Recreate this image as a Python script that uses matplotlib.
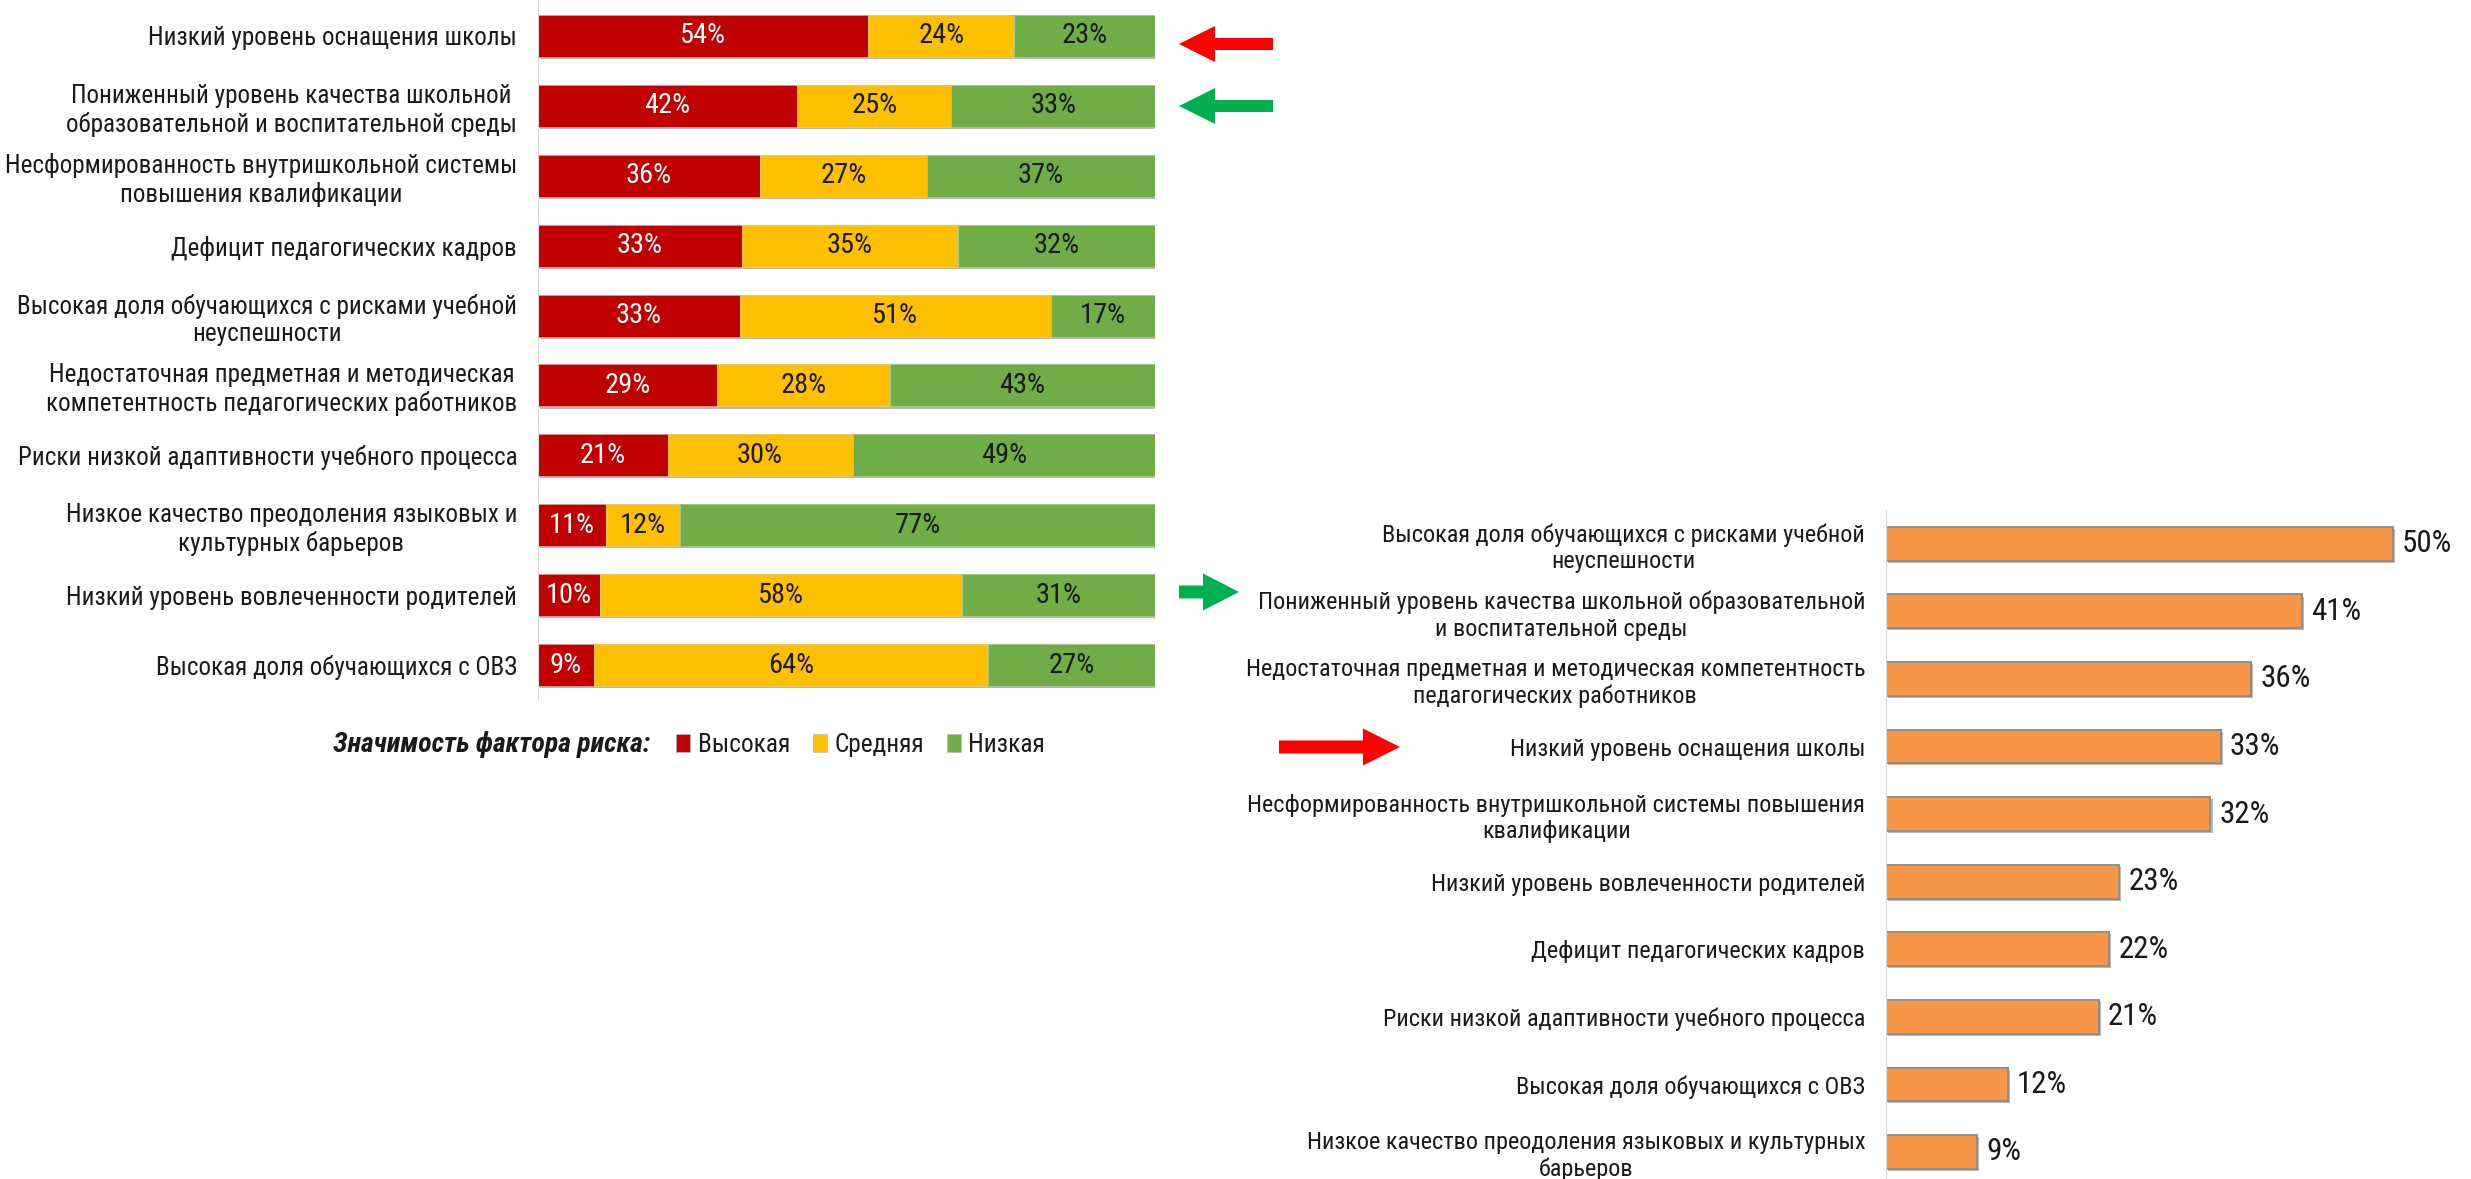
import matplotlib
matplotlib.use("Agg")
import matplotlib.pyplot as plt
import matplotlib.patheffects as pe
from matplotlib.patches import Patch, FancyArrow
from matplotlib import font_manager
import numpy as np

# ---------------- data ----------------
left_categories = [
    "Низкий уровень оснащения школы",
    "Пониженный уровень качества школьной\nобразовательной и воспитательной среды",
    "Несформированность внутришкольной системы\nповышения квалификации",
    "Дефицит педагогических кадров",
    "Высокая доля обучающихся с рисками учебной\nнеуспешности",
    "Недостаточная предметная и методическая\nкомпетентность педагогических работников",
    "Риски низкой адаптивности учебного процесса",
    "Низкое качество преодоления языковых и\nкультурных барьеров",
    "Низкий уровень вовлеченности родителей",
    "Высокая доля обучающихся с ОВЗ",
]
high = [54, 42, 36, 33, 33, 29, 21, 11, 10, 9]
medium = [24, 25, 27, 35, 51, 28, 30, 12, 58, 64]
low = [23, 33, 37, 32, 17, 43, 49, 77, 31, 27]
legend_title = "Значимость фактора риска:"
series_names = ["Высокая", "Средняя", "Низкая"]

right_categories = [
    "Высокая доля обучающихся с рисками учебной\nнеуспешности",
    "Пониженный уровень качества школьной образовательной\nи воспитательной среды",
    "Недостаточная предметная и методическая компетентность\nпедагогических работников",
    "Низкий уровень оснащения школы",
    "Несформированность внутришкольной системы повышения\nквалификации",
    "Низкий уровень вовлеченности родителей",
    "Дефицит педагогических кадров",
    "Риски низкой адаптивности учебного процесса",
    "Высокая доля обучающихся с ОВЗ",
    "Низкое качество преодоления языковых и культурных\nбарьеров",
]
right_values = [50, 41, 36, 33, 32, 23, 22, 21, 12, 9]

# ---------------- style ----------------
C_HIGH = "#C00000"
C_MED = "#FFC000"
C_LOW = "#70AD47"
C_ORANGE = "#F79646"
TXT = "#1a1a1a"

avail = {f.name for f in font_manager.fontManager.ttflist}
FONT = None
for cand in ["Liberation Sans Narrow", "Roboto Condensed", "Open Sans Condensed"]:
    if cand in avail:
        FONT = cand
        break
if FONT is None:
    FONT = "DejaVu Sans"
plt.rcParams["font.family"] = [FONT, "DejaVu Sans"]

W, H = 2471, 1179
fig = plt.figure(figsize=(W / 100, H / 100), dpi=100)
renderer = fig.canvas.get_renderer()


def size_for(text, target_px, **kw):
    t = fig.text(0, 0, text, fontsize=10, **kw)
    w = t.get_window_extent(renderer).width
    t.remove()
    return 10 * target_px / w


FS_CAT = size_for("Низкий уровень оснащения школы", 368)
FS_RCAT = size_for("Пониженный уровень качества школьной образовательной", 607)
FS_VAL = size_for("54%", 46)
FS_RVAL = size_for("50%", 50)
FS_LEGT = size_for(legend_title, 317, fontweight="bold", fontstyle="italic")
FS_LEG = size_for("Высокая", 92)

shadow = [pe.withSimplePatchShadow(offset=(1.5, -1.5), shadow_rgbFace="#606060", alpha=0.45), pe.Normal()]

# ---------------- left chart ----------------
axL = fig.add_axes([538 / W, 1 - 700 / H, 617 / W, 699 / H])
y = np.arange(len(left_categories))
tot = np.array(high) + np.array(medium) + np.array(low)
hN = np.array(high) / tot * 100
mN = np.array(medium) / tot * 100
lN = np.array(low) / tot * 100
bh = axL.barh(y, hN, height=0.6, color=C_HIGH, edgecolor="#d9a0a0", linewidth=0.6)
bm = axL.barh(y, mN, left=hN, height=0.6, color=C_MED, edgecolor="#e8c870", linewidth=0.6)
bl = axL.barh(y, lN, left=hN + mN, height=0.6, color=C_LOW, edgecolor="#a8c898", linewidth=0.6)
for bars in (bh, bm, bl):
    for p in bars:
        p.set_path_effects(shadow)
for i in range(len(y)):
    axL.text(hN[i] / 2, y[i], f"{high[i]}%", ha="center", va="center", color="white", fontsize=FS_VAL)
    axL.text(hN[i] + mN[i] / 2, y[i], f"{medium[i]}%", ha="center", va="center", color=TXT, fontsize=FS_VAL)
    axL.text(hN[i] + mN[i] + lN[i] / 2, y[i], f"{low[i]}%", ha="center", va="center", color=TXT, fontsize=FS_VAL)
axL.set_xlim(0, 100)
axL.set_ylim(9.5, -0.5)
axL.set_yticks(y)
axL.set_yticklabels(left_categories, fontsize=FS_CAT, color=TXT, multialignment="center")
axL.set_xticks([])
axL.tick_params(axis="y", length=0, pad=15)
for s in ["top", "right", "bottom"]:
    axL.spines[s].set_visible(False)
axL.spines["left"].set_color("#d9d9d9")

# ---------------- right chart ----------------
axR = fig.add_axes([1886 / W, 0, 578 / W, 669 / H])
yr = np.arange(len(right_categories))
br = axR.barh(yr, right_values, height=0.5, color=C_ORANGE, edgecolor="#8c8c8c", linewidth=1.2)
for p in br:
    p.set_path_effects(shadow)
for i, v in enumerate(right_values):
    axR.text(v + 0.9, yr[i], f"{v}%", ha="left", va="center", color=TXT, fontsize=FS_RVAL)
axR.set_xlim(0, 57)
axR.set_ylim(9.4, -0.5)
axR.set_yticks(yr)
axR.set_yticklabels(right_categories, fontsize=FS_RCAT, color=TXT, multialignment="center")
axR.set_xticks([])
axR.tick_params(axis="y", length=0, pad=15)
for s in ["top", "right", "bottom"]:
    axR.spines[s].set_visible(False)
axR.spines["left"].set_color("#d9d9d9")

# ---------------- legend ----------------
fig.text(333 / W, 1 - 745 / H, legend_title, fontsize=FS_LEGT, fontweight="bold",
         fontstyle="italic", color=TXT, ha="left", va="center")
handles = [Patch(facecolor=c, edgecolor="#bbbbbb", linewidth=0.5) for c in (C_HIGH, C_MED, C_LOW)]
fig.legend(handles, series_names, ncol=3, loc="center left",
           bbox_to_anchor=(676 / W, 1 - 745 / H), frameon=False, fontsize=FS_LEG,
           handlelength=0.55, handleheight=0.7, handletextpad=0.3, columnspacing=0.9,
           borderpad=0, borderaxespad=0, labelcolor=TXT)

# ---------------- arrows (pixel coordinates) ----------------
def arrow(x_tail, x_tip, y_px, color, shaft=12, head_w=36, head_l=36):
    tr = fig.dpi_scale_trans
    yy = (H - y_px) / 100
    a = FancyArrow(x_tail / 100, yy, (x_tip - x_tail) / 100, 0, width=shaft / 100,
                   head_width=head_w / 100, head_length=head_l / 100,
                   length_includes_head=True, color=color, transform=tr, lw=0)
    fig.patches.append(a)

arrow(1273, 1179, 44, "#FF0000")
arrow(1273, 1179, 106, "#00B050")
arrow(1179, 1239, 592, "#00B050", shaft=13, head_w=37, head_l=36)
arrow(1279, 1400, 747, "#FF0000", shaft=13, head_w=37, head_l=37)

fig.savefig("out.png", dpi=100)
